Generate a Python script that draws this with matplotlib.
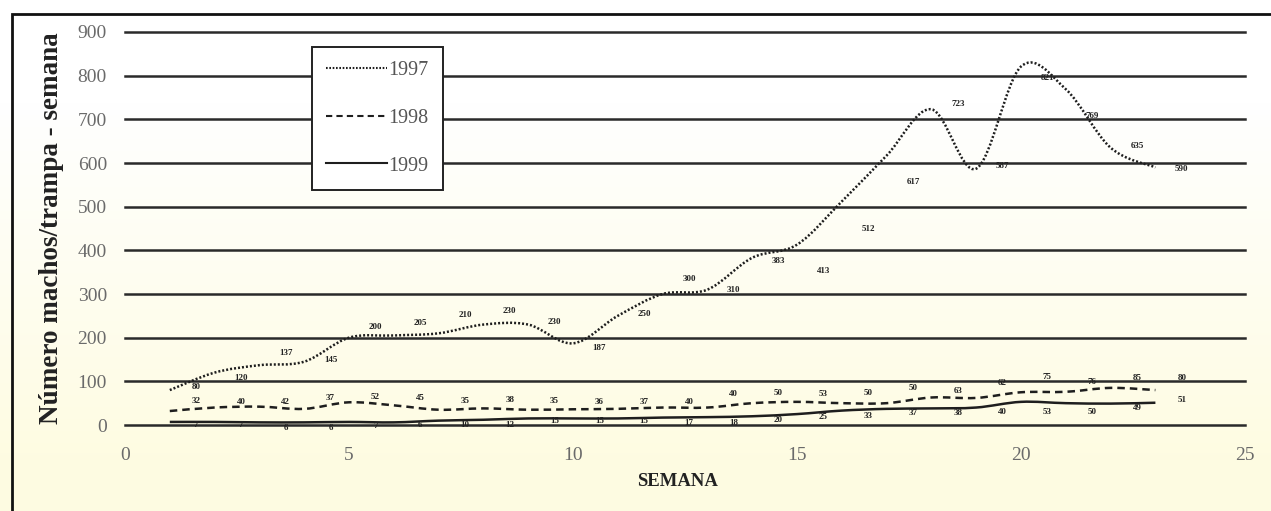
import numpy as np
import matplotlib
matplotlib.use("Agg")
import matplotlib.pyplot as plt
from matplotlib.path import Path
from matplotlib.patches import PathPatch, Rectangle
from matplotlib.lines import Line2D

# ---------------- data ----------------
weeks = list(range(1, 24))
y1997 = [80, 120, 137, 145, 200, 205, 210, 230, 230, 187, 250, 300, 310,
         383, 413, 512, 617, 723, 587, 821, 769, 635, 590]
y1998 = [32, 40, 42, 37, 52, 45, 35, 38, 35, 36, 37, 40, 40, 50, 53, 50,
         50, 63, 62, 75, 76, 85, 80]
y1999 = [7, 7, 6, 6, 7, 6, 10, 12, 15, 15, 15, 17, 18, 20, 25, 33, 37,
         38, 40, 53, 50, 49, 51]
series_labels = ["1997", "1998", "1999"]
xticks = [0, 5, 10, 15, 20, 25]
yticks = list(range(0, 1000, 100))

# label vertical offsets (points), style only
dy97 = [2, -4, 9, 1, 8, 9, 13, 10, 2, -3, 1, 11, 0, -2, -19, -20, -19, 4, 2, -8, -19, 1, -1]
dy98 = [7, 4, 3, 8, 4, 5, 6, 6, 6, 5, 5, 4, 10, 7, 6, 7, 11, 5, 11, 11, 7, 7, 9]
dy99 = [-2, -2, -4, -4, -3, -2, -3, -4, -2, -2, -2, -4, -4, -3, -2, -4, -3, -3, -3, -7, -6, -3, 2]

SERIF = ["Liberation Serif", "DejaVu Serif"]
LINE_C = "#1e1e1e"


def smooth_path(xs, ys):
    """Catmull-Rom style cubic Bezier path through the data points."""
    P = np.column_stack([xs, ys]).astype(float)
    n = len(P)
    verts = [P[0]]
    codes = [Path.MOVETO]
    for i in range(n - 1):
        p0 = P[i - 1] if i > 0 else P[i]
        p1 = P[i]
        p2 = P[i + 1]
        p3 = P[i + 2] if i + 2 < n else P[i + 1]
        c1 = p1 + (p2 - p0) / 6.0
        c2 = p2 - (p3 - p1) / 6.0
        verts += [c1, c2, p2]
        codes += [Path.CURVE4] * 3
    return Path(verts, codes)


fig = plt.figure(figsize=(12.71, 5.11), dpi=100)

# background gradient (scanned paper look)
bg = fig.add_axes([0, 0, 1, 1], zorder=-10)
grad = np.linspace(0, 1, 256).reshape(-1, 1)
top = np.array([1.0, 1.0, 1.0])
bot = np.array([0.996, 0.988, 0.885])
w = np.clip((grad - 0.2) / 0.7, 0, 1)
img = top * (1 - w)[..., None] + bot * w[..., None]
img = img.reshape(256, 1, 3)
bg.imshow(img, aspect="auto", extent=[0, 1, 0, 1], origin="upper")
bg.set_axis_off()

# figure border
fig.patches.append(Rectangle((12 / 1271, -0.02), 1.05, 0.9726 + 0.02,
                             transform=fig.transFigure, fill=False,
                             edgecolor="#111111", linewidth=2.0, zorder=5))

ax = fig.add_axes([125 / 1271, 86 / 511, 1120 / 1271, 393 / 511])
ax.set_facecolor("none")
ax.set_xlim(0, 25)
ax.set_ylim(0, 900)
ax.set_xticks(xticks)
ax.set_yticks(yticks)
for s in ax.spines.values():
    s.set_visible(False)
ax.tick_params(length=0, labelsize=14, colors="#6a6a6a", pad=13)
ax.tick_params(axis="x", pad=16)
for lab in ax.get_xticklabels() + ax.get_yticklabels():
    lab.set_fontfamily(SERIF)
ax.yaxis.grid(True, color="#2a2a2a", linewidth=1.8)
for gl in ax.get_ygridlines():
    gl.set_clip_on(False)
ax.set_axisbelow(True)

styles = [(0, (0.8, 0.8)), (0, (3, 2)), "-"]
datasets = [y1997, y1998, y1999]
for ys, ls in zip(datasets, styles):
    patch = PathPatch(smooth_path(weeks, ys), fill=False, edgecolor=LINE_C,
                      linewidth=1.8, linestyle=ls, zorder=3)
    ax.add_patch(patch)

for ys, dys in zip(datasets, [dy97, dy98, dy99]):
    for x, y, d in zip(weeks, ys, dys):
        ax.annotate(str(y), (x, y), xytext=(19, d), textcoords="offset points",
                    ha="center", va="center", fontsize=6.5, fontweight="bold",
                    color="#222222", family=SERIF, zorder=4)

handles = [Line2D([], [], color=LINE_C, linewidth=1.5, linestyle=ls) for ls in styles]
leg = ax.legend(handles, series_labels, loc="upper left",
                bbox_to_anchor=(0.167, 0.962), frameon=True, fancybox=False,
                handlelength=3.0, handletextpad=0.1, labelspacing=1.42,
                borderpad=0.7, borderaxespad=0,
                prop={"family": SERIF, "size": 14.5})
leg.get_frame().set_edgecolor("#222222")
leg.get_frame().set_linewidth(1.4)
leg.get_frame().set_facecolor("white")
leg.get_frame().set_alpha(1)
for t in leg.get_texts():
    t.set_color("#555555")
leg.set_zorder(6)

ax.set_ylabel("Número machos/trampa - semana", family=SERIF, fontsize=19.5,
              fontweight="bold", color="#222222", labelpad=10)
ax.set_xlabel("SEMANA", family=SERIF, fontsize=13.5, fontweight="bold",
              color="#222222", labelpad=10)
ax.xaxis.set_label_coords(0.493, -0.122)

fig.savefig("out.png", dpi=100)
